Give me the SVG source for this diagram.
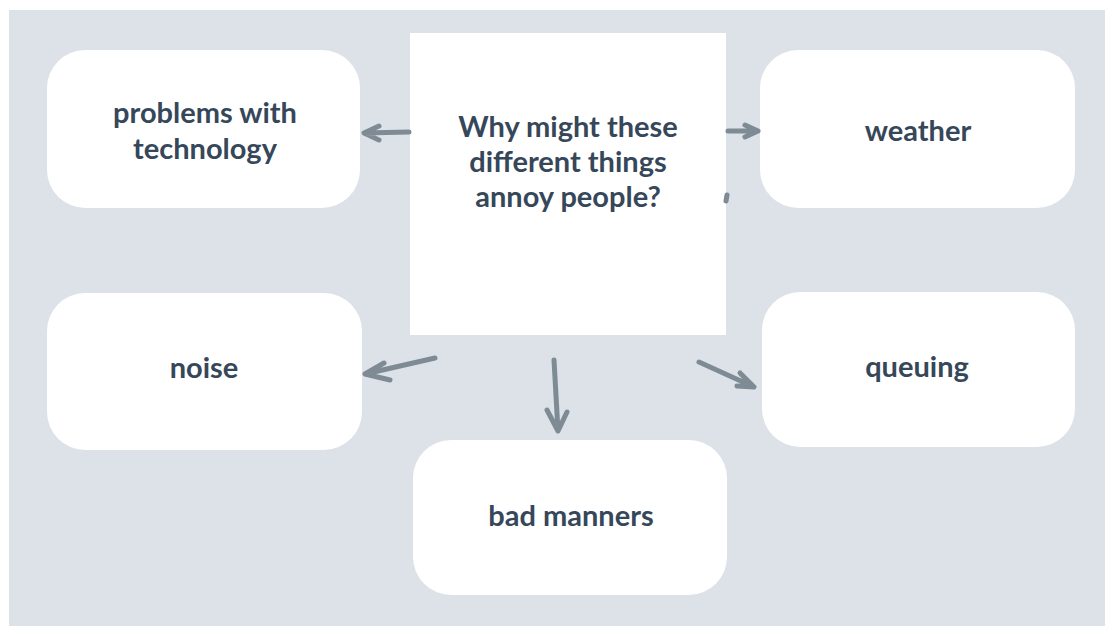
<svg xmlns="http://www.w3.org/2000/svg" width="1105" height="626" viewBox="0 0 1105 626">
<style>
.node{fill:#ffffff;}
.lbl{font-family:Lato,"Open Sans","Liberation Sans",sans-serif;font-weight:bold;font-size:29px;fill:#36475a;text-anchor:middle;}
.conn{fill:none;stroke:#7e8b95;stroke-width:5;stroke-linecap:round;stroke-linejoin:round;}
</style>
<rect x="0" y="0" width="1105" height="626" fill="#ffffff"/>
<rect x="9" y="10" width="1096" height="616" fill="#dde1e8"/>
<g id="center">
<rect class="node" x="410" y="33" width="316" height="302"/>
<text class="lbl" x="568" y="137">Why might these</text>
<text class="lbl" x="568" y="172">different things</text>
<text class="lbl" x="568" y="207">annoy people?</text>
</g>
<g id="technology">
<rect class="node" x="47" y="50" width="313" height="158" rx="38"/>
<text class="lbl" x="205" y="123">problems with</text>
<text class="lbl" x="205" y="159">technology</text>
</g>
<g id="weather">
<rect class="node" x="760" y="50" width="315" height="158" rx="38"/>
<text class="lbl" x="918" y="141">weather</text>
</g>
<g id="noise">
<rect class="node" x="47" y="293" width="315" height="157" rx="38"/>
<text class="lbl" x="204" y="378">noise</text>
</g>
<g id="queuing">
<rect class="node" x="762" y="292" width="313" height="155" rx="38"/>
<text class="lbl" x="917" y="377">queuing</text>
</g>
<g id="badmanners">
<rect class="node" x="413" y="440" width="314" height="155" rx="38"/>
<text class="lbl" x="571" y="526">bad manners</text>
</g>
<g id="connectors">
<path class="conn" d="M409 132 L364 133 M379 126 L364 133 L379 140"/>
<path class="conn" d="M728 131 L758 131 M745 125 L758 131 L745 137"/>
<path class="conn" stroke-width="1.5" d="M727 195 L726 201"/>
<path class="conn" d="M435 358 L365 374 M384 363 L365 374 L390 380"/>
<path class="conn" d="M554 360 L558 431 M547 410 L558 431 L567 412"/>
<path class="conn" d="M699 362 L754 387 M740 373 L754 387 L737 386"/>
</g>
</svg>
